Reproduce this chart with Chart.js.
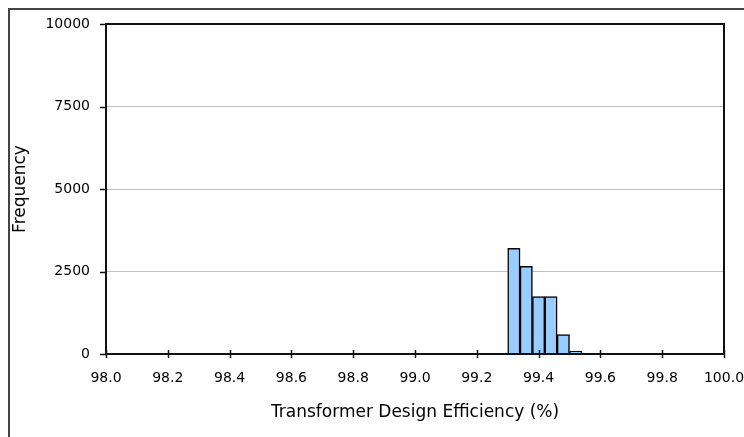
<!DOCTYPE html>
<html>
<head>
<meta charset="utf-8">
<script src="https://cdn.jsdelivr.net/npm/chart.js@4.4.1/dist/chart.umd.min.js"></script>
<style>
  body { margin: 0; background: #fff; }
  #wrap { width: 744px; height: 437px; }
</style>
</head>
<body>
<div id="wrap"><canvas id="myChart" width="744" height="437"></canvas></div>
<script>
// histogram bins (centres, width 0.04) and counts
const binCenters = [99.32, 99.36, 99.40, 99.44, 99.48, 99.52];
const frequencies = [3200, 2660, 1740, 1740, 590, 90];
const xTickValues = [98.0, 98.2, 98.4, 98.6, 98.8, 99.0, 99.2, 99.4, 99.6, 99.8, 100.0];
const yTickValues = [0, 2500, 5000, 7500, 10000];

// frame around the whole picture + plot box + excel style tick marks
const framePlugin = {
  id: 'frame',
  afterDraw(chart) {
    const ctx = chart.ctx;
    const a = chart.chartArea;
    ctx.save();
    ctx.strokeStyle = '#444';
    ctx.lineWidth = 2;
    ctx.strokeRect(9, 9, 800, 500);

    ctx.strokeStyle = '#111';
    ctx.strokeRect(a.left, a.top, a.right - a.left, a.bottom - a.top);

    // x ticks cross the axis
    ctx.lineWidth = 1.5;
    const xs = chart.scales.x;
    xTickValues.forEach(v => {
      const px = Math.round(xs.getPixelForValue(v)) + 0.5;
      ctx.beginPath();
      ctx.moveTo(px, a.bottom - 4);
      ctx.lineTo(px, a.bottom + 4);
      ctx.stroke();
    });
    // y ticks point outwards
    const ys = chart.scales.y;
    yTickValues.forEach(v => {
      const py = Math.round(ys.getPixelForValue(v)) + 0.5;
      ctx.beginPath();
      ctx.moveTo(a.left - 6, py);
      ctx.lineTo(a.left, py);
      ctx.stroke();
    });
    ctx.restore();
  }
};

const ctx = document.getElementById('myChart').getContext('2d');

new Chart(ctx, {
  type: 'bar',
  data: {
    datasets: [{
      data: binCenters.map((c, i) => ({ x: c, y: frequencies[i] })),
      backgroundColor: '#99ccff',
      borderColor: '#000',
      borderWidth: 1.5,
      barPercentage: 1,
      categoryPercentage: 1
    }]
  },
  options: {
    responsive: false,
    animation: false,
    layout: { padding: { top: 24, right: 20, left: 0, bottom: 0 } },
    plugins: {
      legend: { display: false },
      tooltip: { enabled: false }
    },
    scales: {
      x: {
        type: 'linear',
        min: 98,
        max: 100,
        offset: false,
        afterBuildTicks: s => { s.ticks = xTickValues.map(v => ({ value: v })); },
        afterFit: s => { s.height = 83; s.paddingRight = 0; s.paddingLeft = 0; },
        grid: { display: false, drawTicks: false },
        border: { display: false },
        ticks: {
          padding: 16,
          maxRotation: 0,
          autoSkip: false,
          color: '#000',
          font: { family: 'DejaVu Sans', size: 14 },
          callback: v => Number(v).toFixed(1)
        },
        title: {
          display: true,
          text: 'Transformer Design Efficiency (%)',
          color: '#000',
          font: { family: 'DejaVu Sans', size: 17 },
          padding: { top: 0, bottom: 14 }
        }
      },
      y: {
        min: 0,
        max: 10000,
        afterBuildTicks: s => { s.ticks = yTickValues.map(v => ({ value: v })); },
        afterFit: s => { s.width = 106; s.paddingTop = 0; s.paddingBottom = 0; },
        grid: { color: '#c0c0c0', lineWidth: 1, drawTicks: false },
        border: { display: false },
        ticks: {
          padding: 16,
          color: '#000',
          font: { family: 'DejaVu Sans', size: 14 },
          callback: v => String(v)
        },
        title: {
          display: true,
          text: 'Frequency',
          color: '#000',
          font: { family: 'DejaVu Sans', size: 17 },
          padding: { top: 10, bottom: 0 }
        }
      }
    }
  },
  plugins: [framePlugin]
});
</script>
</body>
</html>
